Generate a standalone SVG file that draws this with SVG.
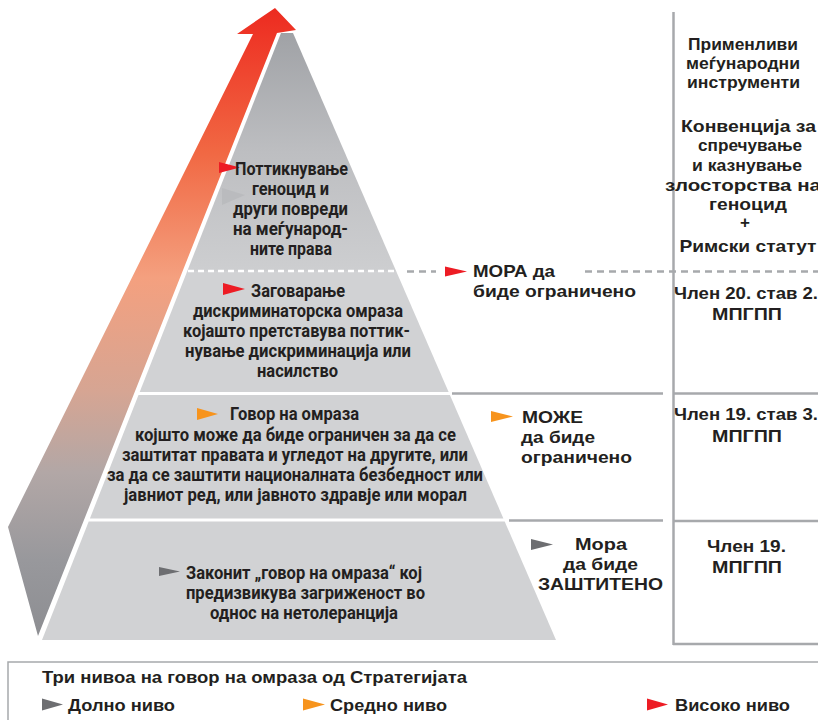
<svg xmlns="http://www.w3.org/2000/svg" width="818" height="720" viewBox="0 0 818 720">
<style>
.c{font-family:Roboto,"Liberation Sans",sans-serif;font-weight:700;font-size:18px;fill:#231f20;text-anchor:middle}
.h{font-family:"Liberation Sans",Arial,sans-serif;font-weight:700;font-size:17px;fill:#231f20}
.hm{font-family:"Liberation Sans",Arial,sans-serif;font-weight:700;font-size:17px;fill:#231f20;text-anchor:middle}
.lvl{fill:#d1d2d4}
.gl{stroke:#a7a9ac;stroke-width:2.5;fill:none}
.dash{stroke:#a7a9ac;stroke-width:2.5;stroke-dasharray:7 5;fill:none}
.red{fill:#ed1c24}.org{fill:#f7941d}.gry{fill:#6d6e71}
</style>
<defs>
<linearGradient id="arrowGrad" gradientUnits="userSpaceOnUse" x1="0" y1="8" x2="0" y2="636">
<stop offset="0" stop-color="#ec2b20"/>
<stop offset="0.04" stop-color="#ee3526"/>
<stop offset="0.23" stop-color="#f16843"/>
<stop offset="0.43" stop-color="#f4a07f"/>
<stop offset="0.61" stop-color="#d6a593"/>
<stop offset="0.74" stop-color="#b2a7a6"/>
<stop offset="0.88" stop-color="#98989c"/>
<stop offset="1" stop-color="#8d8e92"/>
</linearGradient>
<linearGradient id="topGrad" gradientUnits="userSpaceOnUse" x1="0" y1="33" x2="0" y2="271">
<stop offset="0" stop-color="#a0a2a6"/>
<stop offset="0.5" stop-color="#bdbec1"/>
<stop offset="1" stop-color="#cdced0"/>
</linearGradient>
</defs>

<g id="arrow">
<polygon points="275,8 296,30 277,33 38,636 8,527 253,34 237,34" fill="url(#arrowGrad)"/>
</g>

<g id="level-top">
<polygon points="281,33 293,33 396.1,271 187.3,271" fill="url(#topGrad)"/>
<polygon points="219,162 240,167.5 219,173" class="red"/>
<polygon points="222,188 245,195 222,205" fill="#b8b9bc" opacity="0.8"/>
<text class="c" x="291.5" y="175" textLength="113" lengthAdjust="spacingAndGlyphs">Поттикнување</text>
<text class="c" x="290.5" y="195" textLength="77" lengthAdjust="spacingAndGlyphs">геноцид и</text>
<text class="c" x="290.5" y="215" textLength="115" lengthAdjust="spacingAndGlyphs">други повреди</text>
<text class="c" x="290.5" y="235" textLength="115" lengthAdjust="spacingAndGlyphs">на меѓународ-</text>
<text class="c" x="291" y="255" textLength="82" lengthAdjust="spacingAndGlyphs">ните права</text>
</g>

<g id="level-2">
<polygon points="187.3,271 396.1,271 448.6,392 139.7,392" class="lvl"/>
<polygon points="223,283 245,289 223,295" class="red"/>
<text class="c" x="298" y="297" textLength="94" lengthAdjust="spacingAndGlyphs">Заговарање</text>
<text class="c" x="298" y="317" textLength="210" lengthAdjust="spacingAndGlyphs">дискриминаторска омраза</text>
<text class="c" x="296.5" y="337" textLength="227" lengthAdjust="spacingAndGlyphs">којашто претставува поттик-</text>
<text class="c" x="298" y="357" textLength="226" lengthAdjust="spacingAndGlyphs">нување дискриминација или</text>
<text class="c" x="297.5" y="377" textLength="81" lengthAdjust="spacingAndGlyphs">насилство</text>
</g>

<g id="level-3">
<polygon points="138.5,395 449.9,395 503.4,518.5 89.9,518.5" class="lvl"/>
<polygon points="197,408 218,414 197,420" class="org"/>
<text class="c" x="294.5" y="420" textLength="129" lengthAdjust="spacingAndGlyphs">Говор на омраза</text>
<text class="c" x="295.5" y="441" textLength="321" lengthAdjust="spacingAndGlyphs">којшто може да биде ограничен за да се</text>
<text class="c" x="295" y="461" textLength="346" lengthAdjust="spacingAndGlyphs">заштитат правата и угледот на другите, или</text>
<text class="c" x="295" y="481" textLength="376" lengthAdjust="spacingAndGlyphs">за да се заштити националната безбедност или</text>
<text class="c" x="295.5" y="501" textLength="343" lengthAdjust="spacingAndGlyphs">јавниот ред, или јавното здравје или морал</text>
</g>

<g id="level-4">
<polygon points="88.7,521.5 504.7,521.5 556,640 42,640" class="lvl"/>
<polygon points="159,567 180,571.5 159,576" class="gry"/>
<text class="c" x="304" y="579" textLength="236" lengthAdjust="spacingAndGlyphs">Законит „говор на омраза“ кој</text>
<text class="c" x="305.5" y="599" textLength="239" lengthAdjust="spacingAndGlyphs">предизвикува загриженост во</text>
<text class="c" x="304" y="619" textLength="188" lengthAdjust="spacingAndGlyphs">однос на нетолеранција</text>
</g>

<g id="connectors">
<line x1="188" y1="271" x2="396" y2="271" stroke="#ffffff" stroke-width="2.5" stroke-dasharray="6 4"/>
<line x1="407" y1="271.5" x2="436" y2="271.5" class="dash"/>
<line x1="585" y1="271.5" x2="818" y2="271.5" class="dash"/>
<line x1="452" y1="393.5" x2="663" y2="393.5" class="gl"/>
<line x1="509" y1="520.5" x2="663" y2="520.5" class="gl"/>
<line x1="673.5" y1="12" x2="673.5" y2="645" class="gl"/>
<line x1="673" y1="393.5" x2="818" y2="393.5" class="gl"/>
<line x1="673" y1="521" x2="818" y2="521" class="gl"/>
<line x1="673" y1="644" x2="818" y2="644" class="gl"/>
</g>

<g id="must-restrict">
<polygon points="445,266.5 467,271.5 445,276.5" class="red"/>
<text class="h" x="473" y="277" font-size="18" textLength="82" lengthAdjust="spacingAndGlyphs">МОРА да</text>
<text class="h" x="473" y="297" font-size="18" textLength="163" lengthAdjust="spacingAndGlyphs">биде ограничено</text>
</g>

<g id="may-restrict">
<polygon points="491,411 513,416.5 491,422" class="org"/>
<text class="h" x="522" y="423" font-size="18" textLength="61" lengthAdjust="spacingAndGlyphs">МОЖЕ</text>
<text class="h" x="521" y="443" font-size="18" textLength="74" lengthAdjust="spacingAndGlyphs">да биде</text>
<text class="h" x="521" y="463" font-size="18" textLength="111" lengthAdjust="spacingAndGlyphs">ограничено</text>
</g>

<g id="must-protect">
<polygon points="531,539 553,544.5 531,550" class="gry"/>
<text class="hm" x="601" y="550" font-size="18" textLength="52" lengthAdjust="spacingAndGlyphs">Мора</text>
<text class="hm" x="600.5" y="570" font-size="18" textLength="75" lengthAdjust="spacingAndGlyphs">да биде</text>
<text class="hm" x="600.5" y="590" font-size="18" textLength="125" lengthAdjust="spacingAndGlyphs">ЗАШТИТЕНО</text>
</g>

<g id="instruments">
<text class="hm" x="743" y="50" textLength="110" lengthAdjust="spacingAndGlyphs">Применливи</text>
<text class="hm" x="743" y="69" textLength="114" lengthAdjust="spacingAndGlyphs">меѓународни</text>
<text class="hm" x="743.5" y="88" textLength="113" lengthAdjust="spacingAndGlyphs">инструменти</text>
<text class="hm" x="748.5" y="132" textLength="135" lengthAdjust="spacingAndGlyphs">Конвенција за</text>
<text class="hm" x="750" y="151" textLength="104" lengthAdjust="spacingAndGlyphs">спречување</text>
<text class="hm" x="747" y="171" textLength="110" lengthAdjust="spacingAndGlyphs">и казнување</text>
<text class="hm" x="743" y="191" textLength="156" lengthAdjust="spacingAndGlyphs">злосторства на</text>
<text class="hm" x="748" y="210" textLength="78" lengthAdjust="spacingAndGlyphs">геноцид</text>
<text class="hm" x="745" y="228">+</text>
<text class="hm" x="748" y="252" textLength="137" lengthAdjust="spacingAndGlyphs">Римски статут</text>
</g>

<g id="art20">
<text class="hm" x="746" y="299" textLength="144" lengthAdjust="spacingAndGlyphs">Член 20. став 2.</text>
<text class="hm" x="747" y="320" textLength="70" lengthAdjust="spacingAndGlyphs">МПГПП</text>
</g>
<g id="art19-3">
<text class="hm" x="746" y="420" textLength="144" lengthAdjust="spacingAndGlyphs">Член 19. став 3.</text>
<text class="hm" x="747" y="442" textLength="70" lengthAdjust="spacingAndGlyphs">МПГПП</text>
</g>
<g id="art19">
<text class="hm" x="746.5" y="552" textLength="79" lengthAdjust="spacingAndGlyphs">Член 19.</text>
<text class="hm" x="747" y="573" textLength="70" lengthAdjust="spacingAndGlyphs">МПГПП</text>
</g>

<g id="legend">
<path d="M8,720 V662 H818" stroke="#a7a9ac" stroke-width="1.5" fill="none"/>
<text class="h" x="42" y="683" textLength="425" lengthAdjust="spacingAndGlyphs">Три нивоа на говор на омраза од Стратегијата</text>
<polygon points="42,698.5 63,704.5 42,710.5" class="gry"/>
<text class="h" x="68" y="711" textLength="107" lengthAdjust="spacingAndGlyphs">Долно ниво</text>
<polygon points="303,698.5 325,704.5 303,710.5" class="org"/>
<text class="h" x="330" y="711" textLength="117" lengthAdjust="spacingAndGlyphs">Средно ниво</text>
<polygon points="647,698.5 668,704.5 647,710.5" class="red"/>
<text class="h" x="675" y="711" textLength="115" lengthAdjust="spacingAndGlyphs">Високо ниво</text>
</g>
</svg>
